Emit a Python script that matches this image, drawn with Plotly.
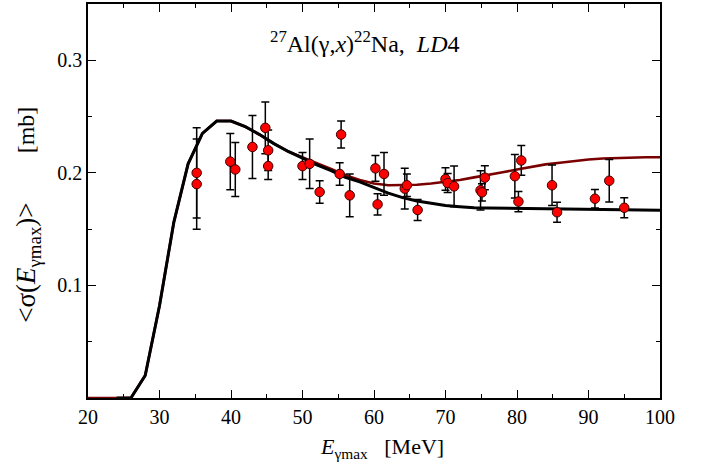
import plotly.graph_objects as go

# Experimental points
x_data = [35.2, 35.2, 39.9, 40.6, 43.0, 44.8, 45.2, 45.2, 50.0, 51.0, 52.4, 55.4, 55.2, 56.6,
          60.2, 60.5, 61.4, 64.3, 64.6, 66.1, 70.0, 70.3, 71.2, 74.9, 75.1, 75.5,
          79.7, 80.2, 80.6, 84.9, 85.6, 90.9, 92.9, 95.0]
y_data = [0.200, 0.190, 0.210, 0.203, 0.223, 0.240, 0.220, 0.206, 0.206, 0.208, 0.183, 0.234, 0.199, 0.180,
          0.204, 0.172, 0.199, 0.186, 0.189, 0.167, 0.1945, 0.191, 0.188, 0.1845, 0.1827, 0.1957,
          0.197, 0.1745, 0.211, 0.189, 0.165, 0.177, 0.193, 0.169]
y_err = [0.040, 0.040, 0.025, 0.024, 0.028, 0.023, 0.018, 0.012, 0.012, 0.022, 0.010, 0.012, 0.010, 0.019,
         0.0115, 0.0094, 0.019, 0.018, 0.010, 0.0093, 0.010, 0.0085, 0.018, 0.0174, 0.0076, 0.0106,
         0.0194, 0.009, 0.0132, 0.018, 0.0088, 0.0082, 0.0188, 0.0088]

# Black curve
black_x = [24, 26, 28, 30, 32, 34, 36, 38, 40, 42, 44, 46, 48, 50, 52, 54, 56, 58, 60, 62, 64, 66,
           68, 70, 72, 74, 76, 78, 80, 85, 90, 95, 100]
black_y = [0.0, 0.0, 0.020, 0.082, 0.156, 0.208, 0.235, 0.246, 0.246, 0.241, 0.234, 0.226, 0.219,
           0.213, 0.207, 0.202, 0.196, 0.192, 0.187, 0.182, 0.178, 0.175, 0.173, 0.171, 0.170,
           0.169, 0.1688, 0.1686, 0.1685, 0.168, 0.1676, 0.1671, 0.1668]

# Dark red curve
red_x = [20, 22, 24, 26, 28, 30, 32, 34, 36, 38, 40, 42, 44, 46, 48, 50, 52, 54, 56, 58, 60, 62, 64,
         66, 68, 70, 72, 74, 76, 78, 80, 82, 84, 86, 88, 90, 92, 94, 96, 98, 100]
red_y = [0.0, 0.0, 0.0, 0.0, 0.020, 0.082, 0.156, 0.208, 0.235, 0.246, 0.246, 0.241, 0.234, 0.226,
         0.219, 0.2135, 0.2085, 0.2035, 0.198, 0.1937, 0.1905, 0.189, 0.189, 0.1895, 0.1905, 0.192,
         0.1937, 0.196, 0.198, 0.2005, 0.203, 0.2052, 0.2075, 0.209, 0.2105, 0.2118, 0.2128,
         0.2133, 0.2136, 0.2138, 0.2139]

x_ticks = [20, 30, 40, 50, 60, 70, 80, 90, 100]
y_ticks = [0.1, 0.2, 0.3]

FONT = "Liberation Serif"

fig = go.Figure()
fig.add_trace(go.Scatter(x=red_x, y=red_y, mode="lines",
                         line=dict(color="#7a0000", width=2.6), showlegend=False))
fig.add_trace(go.Scatter(x=black_x, y=black_y, mode="lines",
                         line=dict(color="black", width=3), showlegend=False))
fig.add_trace(go.Scatter(x=x_data, y=y_data, mode="markers",
                         marker=dict(color="#ff0000", size=9.5, line=dict(color="#3a0000", width=1)),
                         error_y=dict(type="data", array=y_err, visible=True, color="black",
                                      thickness=1.5, width=4),
                         showlegend=False))

axis_common = dict(showline=True, linecolor="black", linewidth=1.5, mirror="allticks",
                   ticks="inside", ticklen=8, tickwidth=1.2, tickcolor="black",
                   showgrid=False, zeroline=False,
                   tickfont=dict(family=FONT, size=20, color="black"))

fig.update_xaxes(range=[20, 100], tickvals=x_ticks, ticktext=[str(v) for v in x_ticks],
                 minor=dict(ticks="inside", ticklen=4, tickwidth=1.2, tickcolor="black",
                            tickvals=[25, 35, 45, 55, 65, 75, 85, 95]),
                 **axis_common)
fig.update_yaxes(range=[0, 0.35], tickvals=y_ticks, ticktext=["0.1", "0.2", "0.3"],
                 minor=dict(ticks="inside", ticklen=4, tickwidth=1.2, tickcolor="black",
                            tickvals=[0.05, 0.15, 0.25]),
                 **axis_common)

title_text = "<sup>27</sup>Al(γ,<i>x</i>)<sup>22</sup>Na,\u00a0\u00a0<i>LD</i>4"
xtitle_text = "<i>E</i><sub>γmax</sub>\u00a0\u00a0\u00a0[MeV]"
ytitle_main = "&lt;σ(<i>E</i><sub>γmax</sub>)&gt;"
ytitle_unit = "[mb]"

fig.update_layout(
    width=702, height=472,
    margin=dict(l=88, r=42, t=2, b=74),
    plot_bgcolor="white", paper_bgcolor="white",
    font=dict(family=FONT, color="black"),
    annotations=[
        dict(text=title_text,
             xref="paper", yref="paper", x=0.484, y=0.904, xanchor="center", yanchor="middle",
             showarrow=False, font=dict(family=FONT, size=24, color="black")),
        dict(text=xtitle_text,
             xref="paper", yref="paper", x=0.514, y=-0.128, xanchor="center", yanchor="middle",
             showarrow=False, font=dict(family=FONT, size=22, color="black")),
        dict(text=ytitle_main, textangle=-90,
             xref="paper", yref="paper", x=-0.105, y=0.343, xanchor="center", yanchor="middle",
             showarrow=False, font=dict(family=FONT, size=27, color="black")),
        dict(text=ytitle_unit, textangle=-90,
             xref="paper", yref="paper", x=-0.108, y=0.68, xanchor="center", yanchor="middle",
             showarrow=False, font=dict(family=FONT, size=24, color="black")),
    ],
)

fig.write_html("out.html", config={"displayModeBar": False},
               post_script="document.body.style.margin='0';document.body.style.overflow='hidden';")
